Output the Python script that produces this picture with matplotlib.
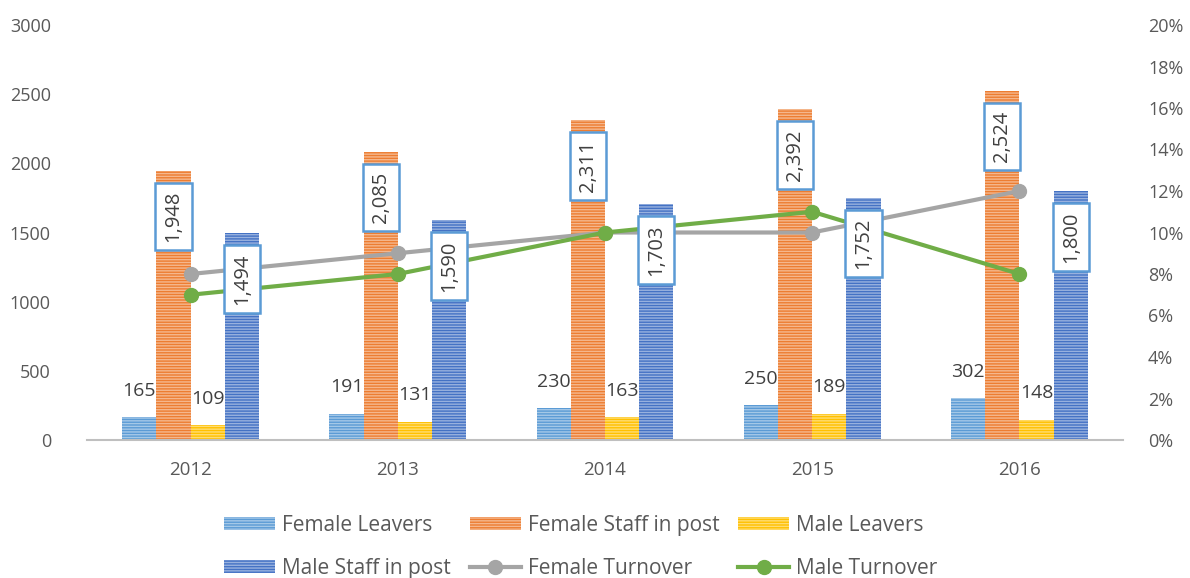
import matplotlib
matplotlib.use("Agg")
import matplotlib.pyplot as plt
import numpy as np
from matplotlib.patches import Patch
from matplotlib.lines import Line2D
from matplotlib.ticker import FuncFormatter

years = ["2012", "2013", "2014", "2015", "2016"]
female_leavers = [165, 191, 230, 250, 302]
female_staff = [1948, 2085, 2311, 2392, 2524]
male_leavers = [109, 131, 163, 189, 148]
male_staff = [1494, 1590, 1703, 1752, 1800]
female_turnover = [8, 9, 10, 10, 12]
male_turnover = [7, 8, 10, 11, 8]

plt.rcParams['font.family'] = ['Open Sans', 'DejaVu Sans']
txt_color = '#595959'
lab_color = '#404040'
fs = 13.5

fig = plt.figure(figsize=(11.9, 5.78), dpi=100)
ax = fig.add_axes([87/1190, 1-440/578, 1036/1190, 415/578])
ax2 = ax.twinx()

x = np.arange(len(years))
w = 0.165
series = [
    ("Female Leavers", female_leavers, '#5B9BD5'),
    ("Female Staff in post", female_staff, '#ED7D31'),
    ("Male Leavers", male_leavers, '#FFC000'),
    ("Male Staff in post", male_staff, '#4472C4'),
]
hatch = '------'
handles = []
for i, (name, vals, col) in enumerate(series):
    off = (i - 1.5) * w
    ax.bar(x + off, vals, width=w, color=col, edgecolor=(1, 1, 1, 0.45),
           linewidth=0, hatch=hatch, zorder=2)
    handles.append(Patch(facecolor=col, edgecolor=(1, 1, 1, 0.45), linewidth=0,
                         hatch=hatch, label=name))
    for xi, v in zip(x + off, vals):
        if 'Staff' in name:
            ax2.annotate(f"{v:,}", xy=(xi, v), xycoords=ax.transData,
                         xytext=(0, -33), textcoords='offset points',
                         rotation=90, ha='center', va='center', fontsize=14.5,
                         color=lab_color, zorder=10,
                         bbox=dict(boxstyle='square,pad=0.4', fc='white', ec='#5B9BD5', lw=1.8))
        else:
            ax2.annotate(f"{v:,}", xy=(xi, v), xycoords=ax.transData,
                         xytext=(0, 19), textcoords='offset points',
                         ha='center', va='center', fontsize=14, color=lab_color, zorder=10)

l1, = ax2.plot(x, female_turnover, color='#A5A5A5', lw=3, marker='o', ms=10,
               label='Female Turnover', zorder=3)
l2, = ax2.plot(x, male_turnover, color='#70AD47', lw=3, marker='o', ms=10,
               label='Male Turnover', zorder=3)

ax.set_xlim(-0.5, 4.5)
ax.set_ylim(0, 3000)
ax.set_yticks(np.arange(0, 3001, 500))
ax2.set_ylim(0, 20)
ax2.set_yticks(np.arange(0, 21, 2))
ax2.yaxis.set_major_formatter(FuncFormatter(lambda v, p: f"{int(v)}%"))
ax.set_xticks(x)
ax.set_xticklabels(years)

for a in (ax, ax2):
    for s in ['top', 'left', 'right', 'bottom']:
        a.spines[s].set_visible(False)
ax.spines['bottom'].set_visible(True)
ax.spines['bottom'].set_color('#BFBFBF')
ax.spines['bottom'].set_linewidth(1.5)

ax.tick_params(axis='y', length=0, pad=26, labelsize=13, labelcolor=txt_color)
ax.tick_params(axis='x', length=0, pad=15, labelsize=fs, labelcolor=txt_color)
ax2.tick_params(axis='y', length=0, pad=18, labelsize=13, labelcolor=txt_color)

allh = handles + [l1, l2]
order = [0, 3, 1, 4, 2, 5]
leg = fig.legend(handles=[allh[i] for i in order], loc='center', ncol=3,
                 bbox_to_anchor=(581/1190, 1-547/578), frameon=False,
                 prop={'size': 15}, labelcolor=txt_color, handlelength=2.45,
                 handleheight=0.58, handletextpad=0.34, columnspacing=0.9,
                 labelspacing=1.07)

fig.savefig("out.png", dpi=100)
